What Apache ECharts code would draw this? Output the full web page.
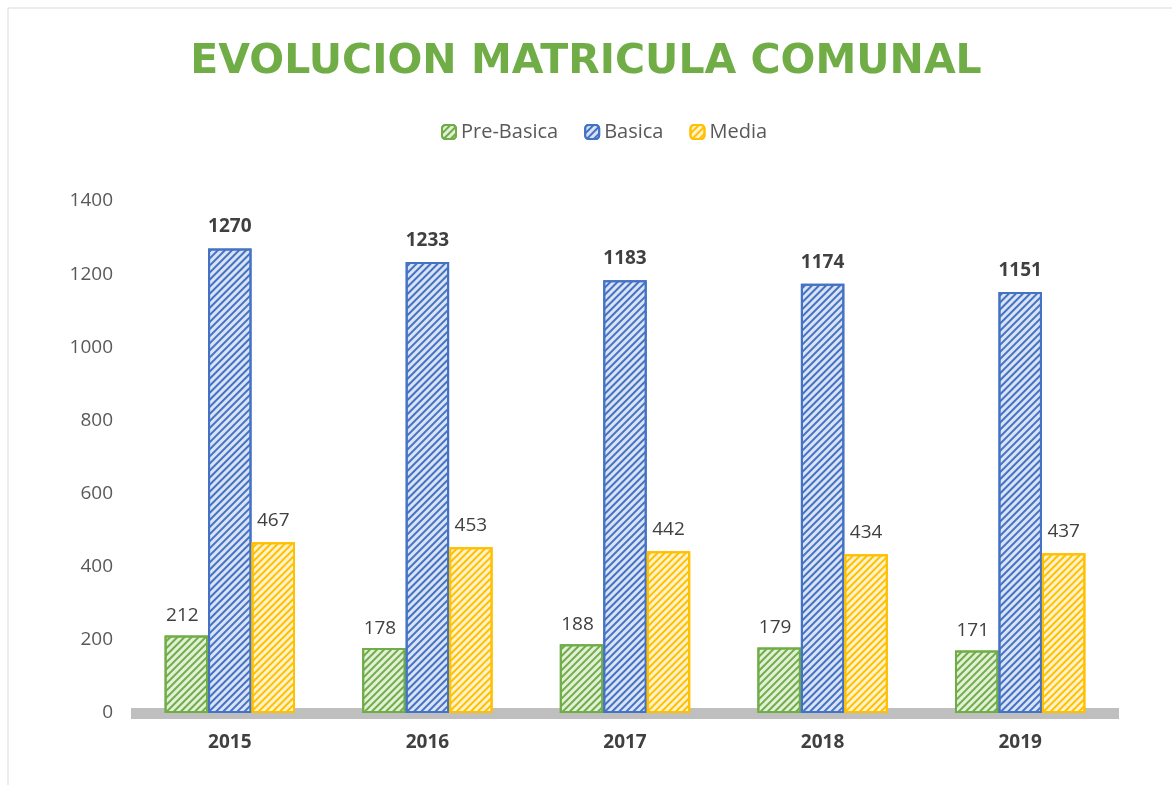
<!DOCTYPE html>
<html>
<head>
<meta charset="utf-8">
<script src="https://cdn.jsdelivr.net/npm/echarts@6/dist/echarts.min.js"></script>
<style>
html, body { margin: 0; padding: 0; background: #fff; }
#main { width: 1172px; height: 785px; }
</style>
</head>
<body>
<div id="main"></div>
<script>
var years = ['2015', '2016', '2017', '2018', '2019'];
var preBasica = [212, 178, 188, 179, 171];
var basica = [1270, 1233, 1183, 1174, 1151];
var media = [467, 453, 442, 434, 437];

function hatch(c) {
    return {
        color: c,
        dashArrayX: [1, 0],
        dashArrayY: [2, 3],
        rotation: -Math.PI / 4
    };
}

var myChart = echarts.init(document.getElementById('main'));
var font = 'Open Sans';
var option = {
    animation: false,
    title: {
        text: 'EVOLUCION MATRICULA COMUNAL',
        left: 'center',
        top: 37,
        textStyle: {
            color: '#70ad47',
            fontSize: 41,
            fontWeight: 'bold',
            fontFamily: 'DejaVu Sans'
        }
    },
    legend: {
        top: 117,
        left: 436,
        itemWidth: 14,
        itemHeight: 14,
        itemGap: 26,
        textStyle: { color: '#595959', fontSize: 20, fontFamily: font },
        data: ['Pre-Basica', 'Basica', 'Media']
    },
    grid: {
        left: 131,
        right: 53,
        top: 201,
        bottom: 72
    },
    xAxis: {
        type: 'category',
        data: years,
        axisTick: { show: false },
        axisLine: { lineStyle: { color: '#bfbfbf', width: 11, cap: 'butt' } },
        axisLabel: {
            color: '#404040',
            fontSize: 19,
            fontWeight: 'bold',
            fontFamily: font,
            margin: 20
        }
    },
    yAxis: {
        type: 'value',
        min: 0,
        max: 1400,
        interval: 200,
        splitLine: { show: false },
        axisLabel: {
            color: '#595959', fontSize: 19, fontFamily: font, margin: 18,
            formatter: function (v) { return String(v); }
        }
    },
    graphic: [{
        type: 'rect',
        shape: { x: 8, y: 8, width: 1200, height: 800 },
        style: { fill: 'none', stroke: '#d9d9d9', lineWidth: 1 }
    }],
    series: [
        {
            name: 'Pre-Basica',
            type: 'bar',
            barGap: 0,
            barCategoryGap: '34%',
            data: preBasica,
            itemStyle: {
                color: '#e2efd9',
                borderColor: '#70ad47',
                borderWidth: 2,
                decal: hatch('#70ad47')
            },
            label: { show: true, position: 'top', color: '#404040', fontSize: 19, fontFamily: font, offset: [-4, 0], distance: 10 }
        },
        {
            name: 'Basica',
            type: 'bar',
            data: basica,
            itemStyle: {
                color: '#dae3f3',
                borderColor: '#4472c4',
                borderWidth: 2,
                decal: hatch('#4472c4')
            },
            label: { show: true, position: 'top', color: '#404040', fontSize: 19, fontWeight: 'bold', fontFamily: font, distance: 12 }
        },
        {
            name: 'Media',
            type: 'bar',
            data: media,
            itemStyle: {
                color: '#fff2cc',
                borderColor: '#ffc000',
                borderWidth: 2,
                decal: hatch('#ffc000')
            },
            label: { show: true, position: 'top', color: '#404040', fontSize: 19, fontFamily: font, distance: 12 }
        }
    ]
};
myChart.setOption(option);
</script>
</body>
</html>
